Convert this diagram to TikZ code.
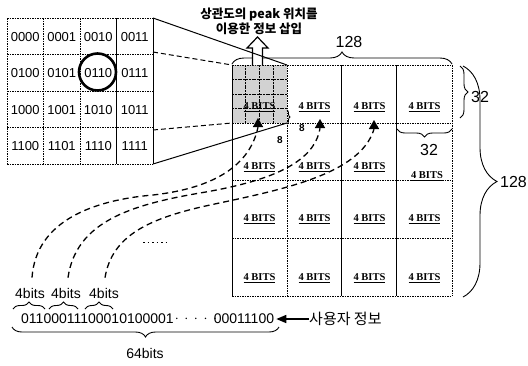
\documentclass[tikz,border=0pt]{standalone}
\usepackage{fontspec}
\setmainfont{Liberation Sans}
\newfontfamily\kr{Noto Sans CJK KR}
\newfontfamily\bitsfont{Liberation Serif}
\usetikzlibrary{decorations.pathreplacing,shapes.geometric,arrows.meta}
\begin{document}
\begin{tikzpicture}[x=1pt,y=-1pt,
  gridline/.style={line width=0.6pt,dash pattern=on 1.5pt off 1pt},
  solidline/.style={line width=0.8pt},
  tabtxt/.style={font=\fontsize{13}{13}\selectfont,inner sep=0pt},
  cellbits/.style={font=\bitsfont\bfseries\fontsize{10.5}{10.5}\selectfont,inner sep=0pt},
  numtxt/.style={font=\fontsize{16}{16}\selectfont,inner sep=0pt},
  bottxt/.style={font=\fontsize{14}{14}\selectfont,inner sep=0pt},
  krtxt/.style={font=\kr\bfseries\fontsize{12.5}{15}\selectfont,inner sep=0pt,align=center},
  tri/.style={regular polygon,regular polygon sides=3,fill=black,inner sep=0pt,minimum size=12pt},
  curve/.style={line width=1.3pt,dash pattern=on 6pt off 4pt},
  bracestyle/.style={decorate,line width=0.9pt},
  eightlbl/.style={font=\bfseries\fontsize{10}{10}\selectfont,inner sep=0pt}
]
\useasboundingbox (0,0) rectangle (528,365);

% ---------- small table ----------
\coordinate (tabTL) at (7,18);
\coordinate (tabTR) at (153,18);
\coordinate (tabBR) at (153,164);
\coordinate (tabR1) at (153,52);
\coordinate (tabR3) at (153,130);
\foreach \yy in {18,54.5,91,127.5,164} \draw[gridline] (7,\yy) -- (153,\yy);
\foreach \xx in {7,43.5,80} \draw[gridline] (\xx,18) -- (\xx,164);
\draw[solidline] (116.5,18) -- (116.5,164);
\draw[solidline] (153,18) -- (153,164);
\foreach \t [count=\i from 0] in {0000,0001,0010,0011,0100,0101,0110,0111,1000,1001,1010,1011,1100,1101,1110,1111}{
  \pgfmathtruncatemacro\rr{int(\i/4)}
  \pgfmathtruncatemacro\cc{mod(\i,4)}
  \node[tabtxt] (n\t) at ({25.25+36.5*\cc},{37+36.5*\rr}) {\t};
}
\node[circle,draw,line width=2.6pt,minimum size=37pt,inner sep=0pt] (circ) at (97.5,72) {};

% ---------- big grid ----------
\fill[gray!35] (232,65) rectangle (287,123);
\foreach \xx in {245.75,259.5,273.25} \draw[line width=1pt,dash pattern=on 2pt off 0.8pt] (\xx,65) -- (\xx,123);
\foreach \yy in {79.5,94,108.5} \draw[line width=1pt,dash pattern=on 2pt off 0.8pt] (232,\yy) -- (287,\yy);
\foreach \yy in {65,123,180,238,296} \draw[gridline] (232,\yy) -- (452,\yy);
\draw[gridline] (287,65) -- (287,296);
\draw[gridline] (452,65) -- (452,296);
\draw[solidline] (232,65) -- (232,296);
\draw[solidline] (341,65) -- (341,296);
\draw[solidline] (396,65) -- (396,296);
\coordinate (cellTL) at (232,65);
\coordinate (cellTR) at (287,65);
\coordinate (cellBL) at (232,123);
\coordinate (cellBR) at (287,123);

% 4 BITS labels
\foreach \c in {0,1,2,3}{
  \node[cellbits] (g1\c) at ({259.5+55*\c},107) {\underline{4 BITS}};
  \node[cellbits] (g3\c) at ({259.5+55*\c},219) {\underline{4 BITS}};
  \node[cellbits] (g4\c) at ({259.5+55*\c},278) {\underline{4 BITS}};
}
\foreach \c in {0,1,2}{
  \node[cellbits] (g2\c) at ({259.5+55*\c},167) {\underline{4 BITS}};
}
\node[cellbits] (g23) at (427,176) {\underline{4 BITS}};

% small bracket and 8 labels
\draw[bracestyle,decoration={brace,amplitude=3pt}] (287,110) -- (287,124);
\node[eightlbl] (e1) at (302,128) {8};
\node[eightlbl] (e2) at (280,140) {8};

% funnel lines
\draw[solidline,line width=1pt] (tabBR) -- (cellBR);
\draw[line width=1pt,dash pattern=on 5pt off 3pt] (tabR1) -- (cellTL);
\draw[line width=1pt,dash pattern=on 5pt off 3pt] (tabR3) -- (cellBL);

% braces
\draw[bracestyle,decoration={brace,amplitude=12pt}] (232,64) -- (452,64);
\node[numtxt] (top128) at (349,42) {128};
\draw[bracestyle,decoration={brace,amplitude=8pt}] (460,66) -- (460,118);
\node[numtxt,anchor=west] (r32) at (471,97) {32};
\draw[bracestyle,decoration={brace,amplitude=8pt}] (452,129) -- (397,129);
\node[numtxt] (b32) at (429,150) {32};
\draw[bracestyle,decoration={brace,amplitude=34pt}] (463,66) -- (463,297);
\node[numtxt,anchor=west] (r128) at (500,182) {128};

% up arrow (hollow)
\draw[fill=white,line width=1.2pt] (252.5,65) -- (252.5,48) -- (247,48) -- (257.5,37) -- (268,48) -- (262.5,48) -- (262.5,65);
\draw[solidline,line width=1pt] (tabTR) -- (cellTR);
\node[krtxt] (title) at (259,21) {상관도의 peak 위치를\\이용한 정보 삽입};

% triangles
\node[tri] (t1) at (258,124) {};
\node[tri] (t2) at (320,125) {};
\node[tri] (t3) at (374,126) {};

% bottom texts
\node[bottxt] (bits) at (97.5,319) {01100011100010100001};
\node[bottxt] (dots) at (196,319) {$\cdot\,\cdot\,\cdot\,\cdot\,\cdot$};
\node[bottxt] (bitsend) at (244,319) {00011100};
\node[krtxt,font=\kr\fontsize{15}{15}\selectfont,anchor=west] (user) at (309,319) {사용자 정보};
\draw[line width=1.6pt,-{Triangle[length=10pt,width=8pt]}] (user.west) -- ([xshift=2pt]bitsend.east);
\node[bottxt] (b1) at (30,293) {4bits};
\node[bottxt] (b2) at (66,293) {4bits};
\node[bottxt] (b3) at (104,293) {4bits};
\draw[bracestyle,decoration={brace,amplitude=7pt}] (13,309) -- (45,309);
\draw[bracestyle,decoration={brace,amplitude=7pt}] (49,309) -- (78,309);
\draw[bracestyle,decoration={brace,amplitude=7pt}] (85,309) -- (113,309);
\draw[bracestyle,decoration={brace,amplitude=10pt}] (279,327) -- (12,327);
\node[bottxt] (b64) at (145,353) {64bits};

% dashed curves
\draw[curve] ([xshift=2pt,yshift=10pt]b1.north) .. controls (36,220) and (95,200) .. (153,195) .. controls (215,188) and (250,165) .. (t1.south);
\draw[curve] ([xshift=2pt,yshift=10pt]b2.north) .. controls (76,222) and (130,205) .. (200,193) .. controls (265,182) and (314,165) .. (t2.south);
\draw[curve] ([xshift=1pt,yshift=10pt]b3.north) .. controls (112,235) and (150,218) .. (210,205) .. controls (280,190) and (360,175) .. (t3.south);
\draw[line width=0.8pt,dash pattern=on 1.5pt off 3pt] (143,242) -- (167,242);
\end{tikzpicture}
\end{document}
